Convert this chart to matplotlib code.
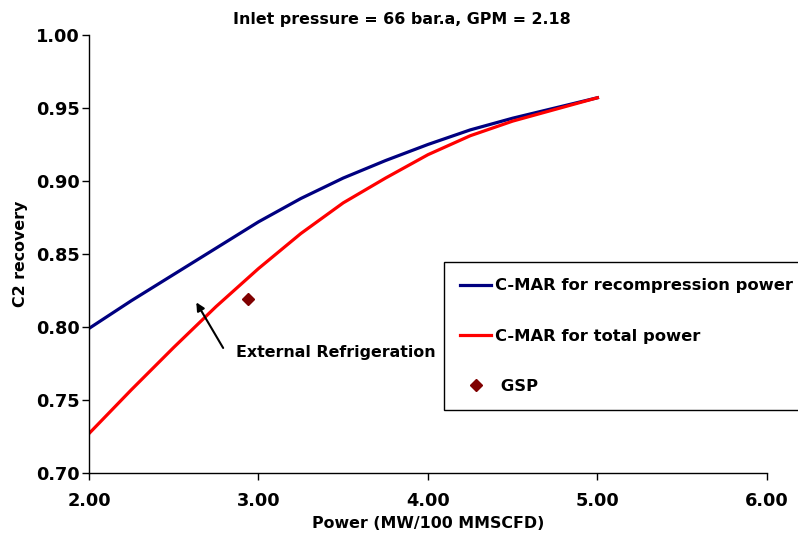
import matplotlib
matplotlib.use("Agg")
import matplotlib.pyplot as plt

plt.rcParams['font.family'] = ['DejaVu Sans']
plt.rcParams['font.weight'] = 'bold'

# power (MW/100 MMSCFD) and C2 recovery for each curve
power = [2.00, 2.25, 2.50, 2.75, 3.00, 3.25, 3.50, 3.75, 4.00, 4.25, 4.50, 4.75, 5.00]
recomp_recovery = [0.799, 0.818, 0.836, 0.854, 0.872, 0.888, 0.902, 0.914, 0.925, 0.935, 0.943, 0.950, 0.957]
total_recovery = [0.727, 0.757, 0.786, 0.814, 0.840, 0.864, 0.885, 0.902, 0.918, 0.931, 0.941, 0.949, 0.957]

gsp_power = [2.94]
gsp_recovery = [0.819]

xticks = [2.0, 3.0, 4.0, 5.0, 6.0]
yticks = [0.70, 0.75, 0.80, 0.85, 0.90, 0.95, 1.00]

fs_text = 11.4
fs_legend = 11.8
fs_tick = 12.8

fig = plt.figure(figsize=(7.98, 5.38), dpi=100)
ax = fig.add_axes([0.1115, 0.1208, 0.8495, 0.8142])

ax.plot(power, recomp_recovery, color='#000080', lw=2.3, solid_joinstyle='round',
        label='C-MAR for recompression power')
ax.plot(power, total_recovery, color='#ff0000', lw=2.3, solid_joinstyle='round',
        label='C-MAR for total power')
ax.plot(gsp_power, gsp_recovery, ls='none', marker='D', color='#800000', ms=6.5, label=' GSP')

ax.set_xlim(2.0, 6.0)
ax.set_ylim(0.70, 1.00)
ax.set_xticks(xticks)
ax.set_yticks(yticks)
ax.set_xticklabels(['%.2f' % v for v in xticks], fontsize=fs_tick, fontweight='bold')
ax.set_yticklabels(['%.2f' % v for v in yticks], fontsize=fs_tick, fontweight='bold')
ax.tick_params(direction='out', length=5, width=1)
ax.tick_params(axis='x', pad=9)
ax.tick_params(axis='y', pad=1.5)
for s in ['top', 'right']:
    ax.spines[s].set_visible(False)
for s in ['left', 'bottom']:
    ax.spines[s].set_linewidth(1)

ax.set_xlabel('Power (MW/100 MMSCFD)', fontsize=fs_text, fontweight='bold', labelpad=4)
ax.set_ylabel('C2 recovery', fontsize=fs_text, fontweight='bold', labelpad=6)
fig.text(0.503, 0.9638, 'Inlet pressure = 66 bar.a, GPM = 2.18', ha='center', va='center',
         fontsize=fs_text, fontweight='bold')

# arrow pointing at the recompression curve
ax.annotate('', xy=(2.625, 0.8185), xytext=(2.80, 0.784),
            arrowprops=dict(arrowstyle='-|>', color='black', lw=1.5, mutation_scale=12))
ax.text(2.865, 0.7825, 'External Refrigeration', fontsize=fs_text, fontweight='bold',
        ha='left', va='center')

leg = ax.legend(loc='upper left', bbox_to_anchor=(0.556, 0.513), bbox_transform=fig.transFigure,
                borderaxespad=0, fancybox=False, edgecolor='black', framealpha=1,
                prop={'size': fs_legend, 'weight': 'bold'}, handlelength=1.9, handletextpad=0.25,
                labelspacing=2.15, borderpad=1.0, markerscale=1.0)
leg.get_frame().set_linewidth(1)

fig.savefig('out.png', dpi=100)
